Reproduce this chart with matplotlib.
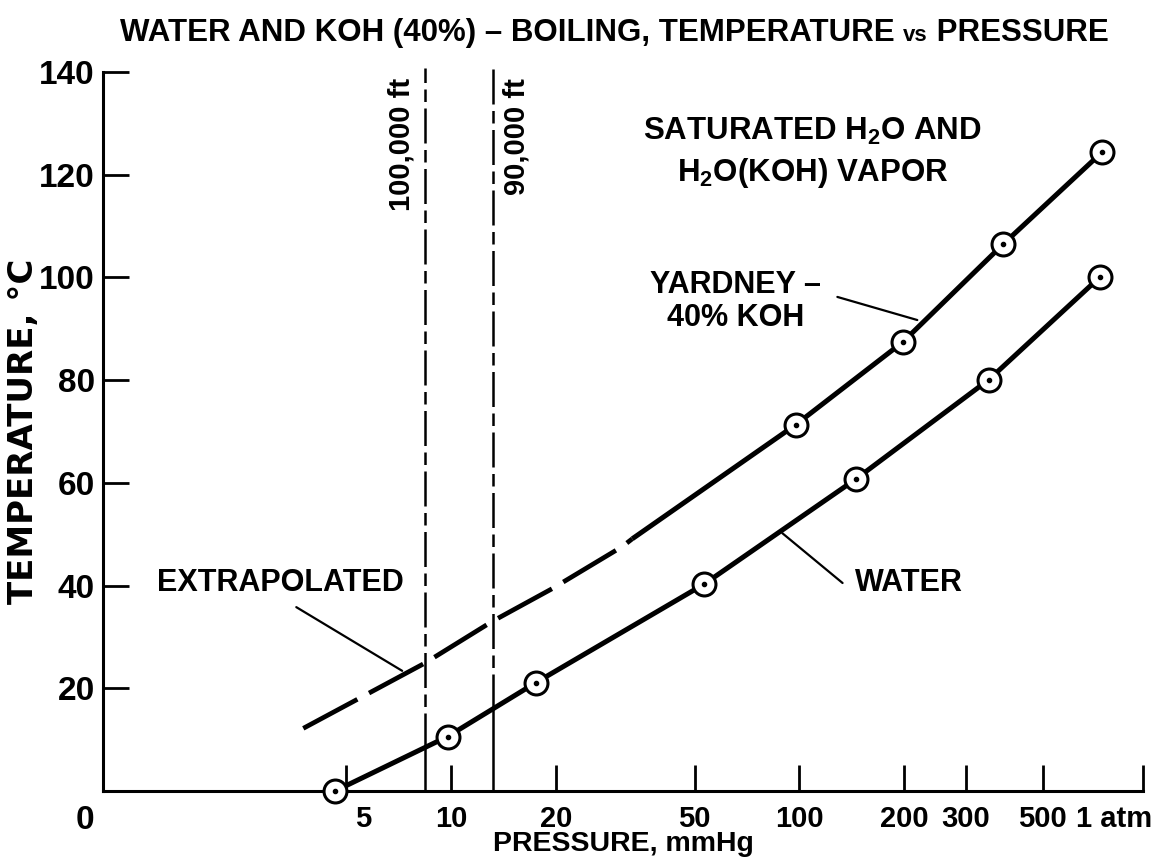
import numpy as np
import matplotlib
matplotlib.use("Agg")
import matplotlib.pyplot as plt
from matplotlib.transforms import ScaledTranslation

plt.rcParams['font.family'] = ['Liberation Sans', 'DejaVu Sans']
plt.rcParams['font.weight'] = 'bold'
plt.rcParams['axes.labelweight'] = 'bold'

# water, saturated vapour
water_p = [4.64, 9.76, 17.5, 53.3, 145, 350, 730]
water_t = [0, 10.6, 21.1, 40.3, 60.7, 80.1, 100.1]

# Yardney 40% KOH, measured points
koh_p = [97.5, 198, 385, 740]
koh_t = [71.3, 87.4, 106.5, 124.4]

# KOH curve extrapolated to low pressure (dashed part)
extrap_p = [3.76, 8.4, 13.1, 19.5, 31.0, 33.1]
extrap_t = [12.2, 24.9, 33.0, 39.4, 47.6, 49.1]

# altitude lines (mmHg)
alt_p = [8.4, 13.2]
alt_labels = ['100,000 ft', '90,000 ft']

xticks = [5, 10, 20, 50, 100, 200, 300, 500, 970]
xticklabels = ['5', '10', '20', '50', '100', '200', '300', '500', '1 atm']
yticks = [0, 20, 40, 60, 80, 100, 120, 140]

fig = plt.figure(figsize=(11.56, 8.61), dpi=100)
ax = fig.add_axes([0.0891, 0.0813, 0.8997, 0.8351])
ax.set_xscale('log')
ax.set_xlim(1, 970)
ax.set_ylim(0, 140)

for s in ['top', 'right']:
    ax.spines[s].set_visible(False)
for s in ['left', 'bottom']:
    ax.spines[s].set_linewidth(2.2)

ax.set_xticks(xticks)
ax.set_xticklabels(xticklabels)
ax.xaxis.set_minor_locator(matplotlib.ticker.NullLocator())
ax.set_yticks(yticks)
ax.set_yticklabels([str(v) for v in yticks])
ax.tick_params(direction='in', length=19, width=2, color='black')
ax.tick_params(axis='x', labelsize=21, pad=10)
ax.tick_params(axis='y', labelsize=24, pad=6)

# nudge a few tick labels the way the original has them
for lab in ax.get_xticklabels():
    if lab.get_text() == '5':
        lab.set_transform(lab.get_transform() + ScaledTranslation(0.17, 0, fig.dpi_scale_trans))
    if lab.get_text() == '1 atm':
        lab.set_transform(lab.get_transform() + ScaledTranslation(-0.29, 0, fig.dpi_scale_trans))
for lab in ax.get_yticklabels():
    if lab.get_text() == '0':
        lab.set_transform(lab.get_transform() + ScaledTranslation(0, -0.26, fig.dpi_scale_trans))

ax.set_xlabel('PRESSURE, mmHg', fontsize=20.5, fontweight='bold')
ax.xaxis.set_label_coords(0.5, -0.055)
ax.set_ylabel('TEMPERATURE, °C', fontsize=24.5, family='DejaVu Sans', fontweight='bold')
ax.yaxis.set_label_coords(-0.0605, 0.5)

# altitude lines: solid under the water curve, dashed above
for p, lbl, side in zip(alt_p, alt_labels, [-1, 1]):
    tw = np.interp(np.log(p), np.log(water_p), water_t)
    ax.plot([p, p], [0, tw], color='black', lw=1.8, zorder=2)
    ax.plot([p, p], [tw, 140.8], color='black', lw=1.8, dashes=(14, 2.6, 5, 2.6),
            clip_on=False, zorder=2)
    ax.annotate(lbl, xy=(p, 138.8), xytext=(side * 7, 0), textcoords='offset points',
                rotation=90, ha='right' if side < 0 else 'left', va='top', fontsize=21)

# curves
ax.plot(extrap_p, extrap_t, color='black', lw=3.4, dashes=(13, 2.8), zorder=3)
ax.plot([extrap_p[-1]] + koh_p, [extrap_t[-1]] + koh_t, color='black', lw=3.6,
        solid_capstyle='butt', zorder=3)
ax.plot(water_p, water_t, color='black', lw=3.6, zorder=3)

for px, ty in [(water_p, water_t), (koh_p, koh_t)]:
    ax.plot(px, ty, 'o', ms=16.5, mfc='white', mec='black', mew=2.2, zorder=4, clip_on=False)
    ax.plot(px, ty, 'o', ms=3, color='black', zorder=5, clip_on=False)

# labels and leader lines
lead = dict(arrowstyle='-', lw=1.6, color='black', shrinkA=0, shrinkB=0)
ax.text(3.23, 40.5, 'EXTRAPOLATED', ha='center', va='center', fontsize=22)
ax.annotate('', xy=(7.23, 23.4), xytext=(3.59, 35.8), arrowprops=lead)
ax.text(144, 40.5, 'WATER', ha='left', va='center', fontsize=22)
ax.annotate('', xy=(89.3, 50.2), xytext=(133, 40.5), arrowprops=lead)
ax.text(65.5, 95.3, 'YARDNEY –\n40% KOH', ha='center', va='center', fontsize=22,
        multialignment='center', linespacing=1.15)
ax.annotate('', xy=(218, 91.7), xytext=(128.5, 96.2), arrowprops=lead)
ax.text(108.9, 124.2, 'SATURATED H$_\\mathregular{2}$O AND\nH$_\\mathregular{2}$O(KOH) VAPOR',
        ha='center', va='center', fontsize=22.5, multialignment='center', linespacing=1.35)

# title, with a smaller "vs" on the same baseline
W = fig.get_figwidth() * fig.dpi
base_y = 0.9524
renderer = fig.canvas.get_renderer()
t1 = fig.text(0.1038, base_y, 'WATER AND KOH (40%) – BOILING, TEMPERATURE ', ha='left',
              va='baseline', fontsize=22.5)
x1 = t1.get_window_extent(renderer).x1 / W
t2 = fig.text(x1, base_y, 'vs', ha='left', va='baseline', fontsize=16)
x2 = t2.get_window_extent(renderer).x1 / W
t3 = fig.text(x2, base_y, ' PRESSURE', ha='left', va='baseline', fontsize=22.5)

fig.savefig('out.png', dpi=100)
